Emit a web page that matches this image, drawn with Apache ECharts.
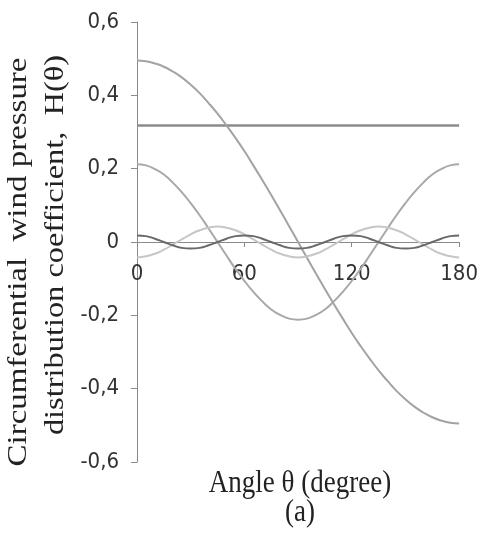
<!DOCTYPE html>
<html>
<head>
<meta charset="utf-8">
<script src="https://cdn.jsdelivr.net/npm/echarts@6/dist/echarts.min.js"></script>
<style>
html,body{margin:0;padding:0;background:#fff;}
#chart{width:481px;height:536px;}
</style>
</head>
<body>
<div id="chart"></div>
<script>
const angles = [0,5,10,15,20,25,30,35,40,45,50,55,60,65,70,75,80,85,90,95,100,105,110,115,120,125,130,135,140,145,150,155,160,165,170,175,180];
const h0 = [0.318,0.318,0.318,0.318,0.318,0.318,0.318,0.318,0.318,0.318,0.318,0.318,0.318,0.318,0.318,0.318,0.318,0.318,0.318,0.318,0.318,0.318,0.318,0.318,0.318,0.318,0.318,0.318,0.318,0.318,0.318,0.318,0.318,0.318,0.318,0.318,0.318];
const h1 = [0.495,0.493,0.487,0.478,0.465,0.449,0.429,0.406,0.379,0.350,0.318,0.284,0.248,0.209,0.169,0.128,0.086,0.043,0,-0.043,-0.086,-0.128,-0.169,-0.209,-0.248,-0.284,-0.318,-0.350,-0.379,-0.406,-0.429,-0.449,-0.465,-0.478,-0.487,-0.493,-0.495];
const h2 = [0.212,0.209,0.199,0.184,0.162,0.136,0.106,0.073,0.037,0,-0.037,-0.073,-0.106,-0.136,-0.162,-0.184,-0.199,-0.209,-0.212,-0.209,-0.199,-0.184,-0.162,-0.136,-0.106,-0.073,-0.037,0,0.037,0.073,0.106,0.136,0.162,0.184,0.199,0.209,0.212];
const h4 = [-0.042,-0.039,-0.032,-0.021,-0.007,0.007,0.021,0.032,0.039,0.042,0.039,0.032,0.021,0.007,-0.007,-0.021,-0.032,-0.039,-0.042,-0.039,-0.032,-0.021,-0.007,0.007,0.021,0.032,0.039,0.042,0.039,0.032,0.021,0.007,-0.007,-0.021,-0.032,-0.039,-0.042];
const h6 = [0.018,0.016,0.009,0,-0.009,-0.016,-0.018,-0.016,-0.009,0,0.009,0.016,0.018,0.016,0.009,0,-0.009,-0.016,-0.018,-0.016,-0.009,0,0.009,0.016,0.018,0.016,0.009,0,-0.009,-0.016,-0.018,-0.016,-0.009,0,0.009,0.016,0.018];
const xTicks = [0,60,120,180];
const yTicks = [-0.6,-0.4,-0.2,0,0.2,0.4,0.6];
const yTitle1 = 'Circumferential  wind pressure';
const yTitle2 = 'distribution coefficient,  H(θ)';
const xTitle = 'Angle θ (degree)';
const subTitle = '(a)';

function pairs(ys){ return angles.map((a,i)=>[a, ys[i]]); }
const labelFont = "'Liberation Sans Narrow','DejaVu Sans Condensed','Liberation Sans',sans-serif";
const serif = "'Liberation Serif','Times New Roman',serif";

const GRID_TOP = 22, GRID_BOTTOM = 74, H = 536;
const plotH = H - GRID_TOP - GRID_BOTTOM;

const chart = echarts.init(document.getElementById('chart'), null, {renderer:'canvas'});
function mkSeries(name, data, color, width){
  return {name, type:'line', data: pairs(data), smooth:true, showSymbol:false, symbol:'none',
    lineStyle:{color, width}, animation:false};
}
chart.setOption({
  animation:false,
  backgroundColor:'#fff',
  grid:{left:137, right:16, top:GRID_TOP, bottom:GRID_BOTTOM, containLabel:false},
  xAxis:{type:'value', min:0, max:180, interval:60, position:'bottom',
    offset: -plotH/2,
    axisLine:{onZero:false, lineStyle:{color:'#8a8a8a', width:1}},
    axisTick:{show:true, inside:false, length:5, lineStyle:{color:'#8a8a8a'}},
    splitLine:{show:false},
    axisLabel:{margin:21, color:'#333', fontSize:22, fontFamily:labelFont,
      formatter: v => String(v)}
  },
  yAxis:{type:'value', min:-0.6, max:0.6, interval:0.2,
    axisLine:{show:true, lineStyle:{color:'#8a8a8a', width:1}},
    axisTick:{show:true, inside:false, length:6, lineStyle:{color:'#8a8a8a'}},
    splitLine:{show:false},
    axisLabel:{margin:18, color:'#333', fontSize:22, fontFamily:labelFont,
      formatter: v => (Math.abs(v) < 1e-9 ? '0' : v.toFixed(1).replace('.', ','))}
  },
  series:[
    mkSeries('H0', h0, '#8c8c8c', 2.5),
    mkSeries('H1', h1, '#a3a3a3', 2),
    mkSeries('H2', h2, '#a8a8a8', 2),
    mkSeries('H4', h4, '#c6c6c6', 2),
    mkSeries('H6', h6, '#6a6a6a', 2)
  ],
  graphic:[
    {type:'text', x:19, y:262, rotation:Math.PI/2, scaleX:1.22, scaleY:1,
      style:{text:yTitle1, font:"27px " + serif, fill:'#222', align:'center', verticalAlign:'middle'}},
    {type:'text', x:56, y:245, rotation:Math.PI/2, scaleX:1.2, scaleY:1,
      style:{text:yTitle2, font:"27px " + serif, fill:'#222', align:'center', verticalAlign:'middle'}},
    {type:'text', x:300, y:484, scaleX:1, scaleY:1.15,
      style:{text:xTitle, font:"27px " + serif, fill:'#222', align:'center', verticalAlign:'middle'}},
    {type:'text', x:300, y:513, scaleX:1, scaleY:1.15,
      style:{text:subTitle, font:"27px " + serif, fill:'#222', align:'center', verticalAlign:'middle'}}
  ]
});
</script>
</body>
</html>
